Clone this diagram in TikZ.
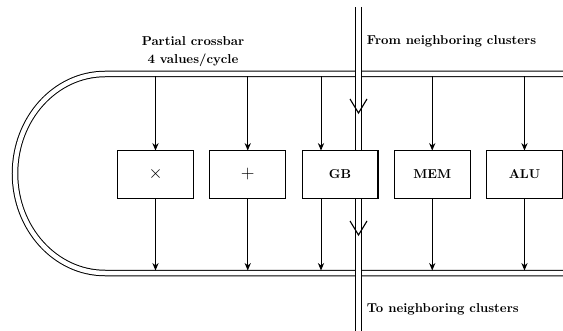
\documentclass[tikz,border=0pt]{standalone}
\usetikzlibrary{arrows.meta, positioning}

\begin{document}
\begin{tikzpicture}[x=0.8pt, y=-0.8pt,
    unit/.style={draw, line width=0.9pt, fill=white, minimum width=60.7pt, minimum height=38.3pt, inner sep=0pt, outer sep=0pt, font=\bfseries\fontsize{10.3pt}{12pt}\selectfont},
    feed/.style={line width=0.8pt, -{Stealth[length=6pt,width=5pt]}},
    rail/.style={line width=0.8pt, double, double distance=3.6pt},
    vtip/.style={line width=0.9pt},
    caption/.style={font=\bfseries\fontsize{10.3pt}{12pt}\selectfont, align=center}]
    \useasboundingbox (0,0) rectangle (563,331);

    % Ring bus
    \draw[rail] (563,74) -- (105,74) arc[start angle=-90, end angle=-270, x radius=90, y radius=99.5] -- (563,273);
    \coordinate (bustop) at (0,76.5);
    \coordinate (busbot) at (0,270.5);

    % Function units
    \node[unit] (mul) at (155.5,174.5) {\Large$\times$};
    \node[unit, right=13.1pt of mul] (add) {\Large$+$};
    \node[unit, right=13.1pt of add] (gb) {GB};
    \node[unit, right=13.1pt of gb] (mem) {MEM};
    \node[unit, right=13.1pt of mem] (alu) {ALU};

    % Crossbar feeds
    \foreach \u in {mul,add,mem,alu} {
        \draw[feed] (\u.north |- bustop) -- (\u.north);
        \draw[feed] (\u.south) -- (\u.south |- busbot);
    }
    \coordinate (gbin) at ([xshift=-15.2pt]gb.north);
    \coordinate (gbout) at ([xshift=-15.2pt]gb.south);
    \draw[feed] (gbin |- bustop) -- (gbin);
    \draw[feed] (gbout) -- (gbout |- busbot);

    % Link to neighboring clusters
    \coordinate (linktop) at (358.5,7);
    \coordinate (linkbot) at (358.5,335);
    \draw[rail, shorten >=0.45pt] (linktop) -- (linktop |- gb.north);
    \draw[rail, shorten <=0.45pt] (linktop |- gb.south) -- (linkbot);
    \coordinate (vin) at (358.5,113);
    \coordinate (vout) at (358.5,235);
    \foreach \v in {vin,vout}
        \draw[vtip] ([shift={(-8.5,-14)}]\v) -- (\v) -- ([shift={(8.5,-14)}]\v);

    % Labels
    \node[caption] (xbar) at (193,52) {Partial crossbar\\[2.5pt]4 values/cycle};
    \node[caption, anchor=west] (from) at (362.5,41) {From neighboring clusters};
    \node[caption, anchor=west] (to) at (362.5,309) {To neighboring clusters};
\end{tikzpicture}
\end{document}
